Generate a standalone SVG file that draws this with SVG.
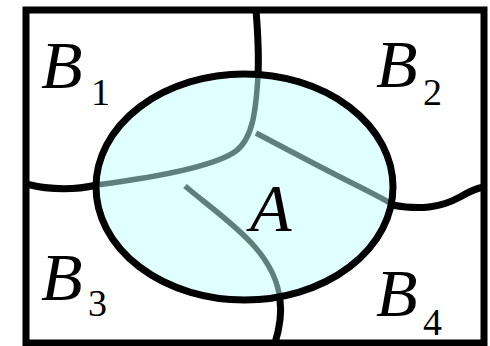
<svg xmlns="http://www.w3.org/2000/svg" width="490" height="346" viewBox="0 0 490 346">
<style>
.blk{fill:none;stroke:#000;stroke-width:7;stroke-linecap:butt}
.gry{fill:none;stroke:#5f7f7c;stroke-width:5.5}
</style>
<rect x="0" y="0" width="490" height="346" fill="#fff"/>
<g id="frame"><rect x="26" y="10" width="458" height="333" class="blk"/></g>
<g id="A-fill"><ellipse cx="244.5" cy="187" rx="148.5" ry="113" fill="#e0ffff"/></g>
<g id="connectors">
<path class="gry" d="M258,75 C256,110 253,138 236,151 C214,167 150,178 96,185"/>
<path class="gry" d="M256,133 C292,152 322,168 348,181 C366,190 380,197 390,203"/>
<path class="gry" d="M185,186 C225,220 275,250 280,300"/>
</g>
<g font-family="Liberation Serif, Times New Roman, serif" fill="#000">
<g id="A"><ellipse cx="244.5" cy="187" rx="148.5" ry="113" class="blk"/>
<text font-style="italic" font-size="68" x="250" y="231">A</text></g>
<g id="partition">
<path class="blk" d="M256,10 C258,35 259,55 258,75"/>
<path class="blk" d="M26,184 Q62,193 97,185"/>
<path class="blk" d="M392,205 C420,210 440,208 460,197 C470,191 478,188 484,187"/>
<path class="blk" d="M280,300 C282,315 279,330 275,343"/>
</g>
<g id="B1"><text font-style="italic" font-size="68" x="41" y="88">B</text><text font-size="38" x="91" y="105">1</text></g>
<g id="B2"><text font-style="italic" font-size="68" x="376" y="87">B</text><text font-size="38" x="423" y="105">2</text></g>
<g id="B3"><text font-style="italic" font-size="68" x="41" y="300">B</text><text font-size="38" x="88" y="316">3</text></g>
<g id="B4"><text font-style="italic" font-size="68" x="376" y="316">B</text><text font-size="38" x="423" y="335">4</text></g>
</g>
</svg>
